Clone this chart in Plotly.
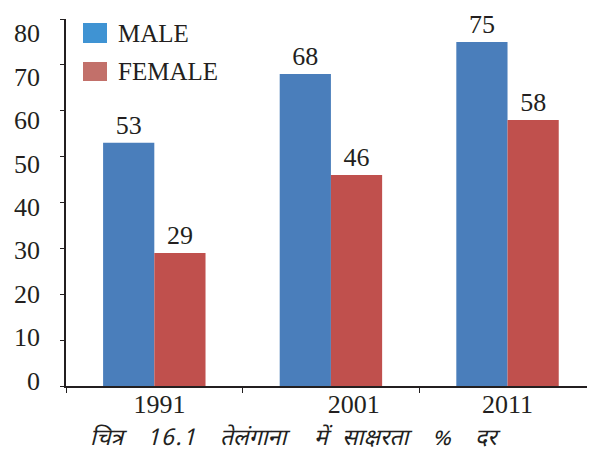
import plotly.graph_objects as go

# Literacy rate (%) in Telangana by census year
years = ["1991", "2001", "2011"]
male = [53, 68, 75]
female = [29, 46, 58]
series_names = ["MALE", "FEMALE"]
y_tick_values = [0, 10, 20, 30, 40, 50, 60, 70, 80]
year_label_pos = [0.03, 1.13, 2.0]   # where the year labels sit along the category axis

# figure caption, word by word, with the pixel centre of each word
caption_words = ["चित्र", "1\u200a6\u200a.\u200a1", "तेलंगाना", "में", "साक्षरता", "%", "दर"]
caption_x = [109, 171.5, 255, 323, 377.5, 441.5, 487.5]

MALE_C = "#4a7ebb"
FEMALE_C = "#c0504d"
INK = "#231f20"
SERIF = "Liberation Serif, Times New Roman, serif"

W, H = 589, 454
L, R, T, B = 66, 2, 19, 68
plot_w = W - L - R
plot_h = H - T - B

def px_x(p):
    return (p - L) / plot_w

def px_y(p):
    return (H - B - p) / plot_h

label_font = dict(family=SERIF, size=26, color=INK)

fig = go.Figure()
for name, vals, col in [(series_names[0], male, MALE_C), (series_names[1], female, FEMALE_C)]:
    fig.add_trace(go.Bar(
        x=years, y=vals, name=name, marker_color=col, marker_line_width=0,
        text=[str(v) for v in vals], textposition="outside", cliponaxis=False,
        textfont=label_font, outsidetextfont=label_font,
        showlegend=False,
    ))

# invisible helper trace so the label axes are drawn
fig.add_trace(go.Scatter(x=[0], y=[0], xaxis="x2", yaxis="y2", mode="markers",
                         marker=dict(opacity=0), showlegend=False, hoverinfo="skip"))

fig.update_layout(
    width=W, height=H,
    margin=dict(l=L, r=R, t=T, b=B),
    paper_bgcolor="white", plot_bgcolor="white",
    barmode="group", bargap=0.42, bargroupgap=0,
    xaxis=dict(
        type="category", range=[-0.5, 2.45],
        showline=True, linecolor=INK, linewidth=1.5,
        ticks="outside", tickson="boundaries", ticklen=5, tickcolor=INK,
        showticklabels=False, showgrid=False, zeroline=False,
    ),
    yaxis=dict(
        range=[0, 80], tickvals=y_tick_values,
        showline=True, linecolor=INK, linewidth=1.5,
        ticks="outside", ticklen=4, tickcolor=INK,
        showticklabels=False, showgrid=False, zeroline=False,
    ),
    xaxis2=dict(
        overlaying="x", range=[-0.5, 2.45], tickvals=year_label_pos, ticktext=years,
        showline=False, showgrid=False, zeroline=False, ticks="",
        tickfont=dict(family=SERIF, size=26, color=INK), anchor="y",
    ),
    yaxis2=dict(
        overlaying="y", range=[-1.27, 83.3], tickvals=y_tick_values,
        showline=False, showgrid=False, zeroline=False, ticks="",
        ticklabelstandoff=25,
        tickfont=dict(family=SERIF, size=26, color=INK), anchor="x",
    ),
)

# legend swatches and labels
legend_items = [(series_names[0], "#3f93d3", 23, 43), (series_names[1], "#c2706a", 62, 81)]
for name, col, y0, y1 in legend_items:
    fig.add_shape(type="rect", xref="paper", yref="paper",
                  x0=px_x(83), x1=px_x(107), y0=px_y(y1), y1=px_y(y0),
                  fillcolor=col, line=dict(width=0))
    fig.add_annotation(xref="paper", yref="paper", x=px_x(116), y=px_y((y0 + y1) / 2),
                       xanchor="left", yanchor="middle", text=name, showarrow=False,
                       font=dict(family=SERIF, size=25, color=INK))

for word, cx in zip(caption_words, caption_x):
    fig.add_annotation(xref="paper", yref="paper", x=px_x(cx), y=px_y(439),
                       xanchor="center", yanchor="middle", text=f"<i>{word}</i>",
                       showarrow=False,
                       font=dict(family="Noto Sans Devanagari, Noto Sans, sans-serif",
                                 size=23, color=INK))

fig.write_html("out.html")
